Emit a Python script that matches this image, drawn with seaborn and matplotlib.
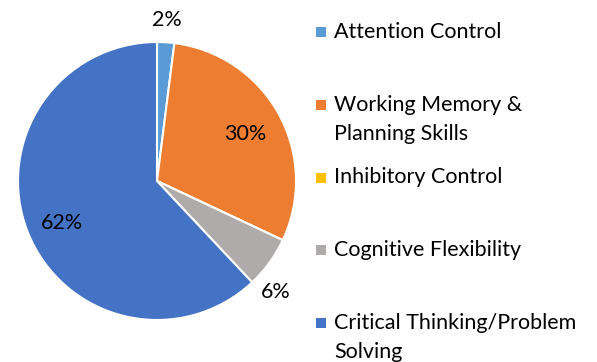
import numpy as np
import matplotlib
matplotlib.use("Agg")
import matplotlib.pyplot as plt
import seaborn as sns
from matplotlib.patches import Rectangle

categories = ["Attention Control", "Working Memory &\nPlanning Skills",
              "Inhibitory Control", "Cognitive Flexibility",
              "Critical Thinking/Problem\nSolving"]
shares = [2, 30, 0, 6, 62]
pct_labels = ["2%", "30%", "", "6%", "62%"]
# label placement: distance from centre (x radius) and angle nudge (deg)
label_dist = [1.16, 0.72, 0.0, 1.17, 0.75]
label_nudge = [0, -1, 0, -7, 2]

sns.set_theme(style="white")
plt.rcParams["font.family"] = ["Lato", "DejaVu Sans"]
colors = sns.color_palette(["#5B9BD5", "#ED7D31", "#FFC000", "#AFABAB", "#4472C4"])

fig = plt.figure(figsize=(5.97, 3.62), dpi=100)
ax = fig.add_axes([18 / 597, 42 / 362, 278 / 597, 278 / 362])

wedges, _ = ax.pie(shares, colors=colors, startangle=90, counterclock=False,
                   wedgeprops=dict(edgecolor="white", linewidth=1.5))
ax.set_xlim(-1, 1)
ax.set_ylim(-1, 1)
ax.set_aspect("equal")
ax.axis("off")

for w, lab, d, nd in zip(wedges, pct_labels, label_dist, label_nudge):
    if not lab:
        continue
    mid = np.deg2rad((w.theta1 + w.theta2) / 2 + nd)
    ax.text(d * np.cos(mid), d * np.sin(mid), lab, ha="center", va="center",
            fontsize=15.5, color="#000000", clip_on=False)

# legend on the right, one slot per category
top = 1 - 32 / 362
step = 72.75 / 362
for i, (name, c) in enumerate(zip(categories, colors)):
    y = top - i * step
    fig.patches.append(Rectangle((316 / 597, y - 5 / 362), 10 / 597, 10 / 362,
                                 transform=fig.transFigure, facecolor=c,
                                 edgecolor="none"))
    fig.text(334 / 597, y + 10 / 362, name, ha="left", va="top",
             fontsize=15.5, linespacing=1.55, color="#000000")

fig.savefig("out.png", dpi=100)
